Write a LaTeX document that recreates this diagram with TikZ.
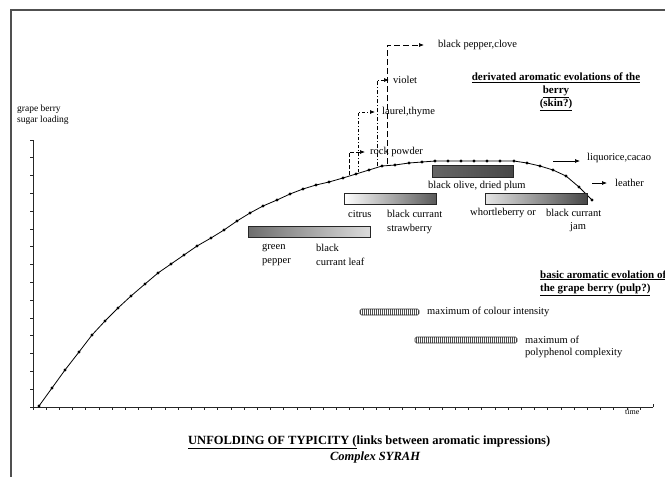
\documentclass[tikz,border=0pt]{standalone}
\usepackage{fontspec}
\setmainfont{Liberation Serif}
\usetikzlibrary{arrows.meta,patterns.meta}
\definecolor{framegray}{HTML}{505050}
\begin{document}
\begin{tikzpicture}[x=1pt,y=-1pt,
  lbl/.style={font=\fontsize{10.5}{12}\selectfont, inner sep=0pt, anchor=west},
  hdr/.style={font=\fontsize{11}{13}\selectfont\bfseries, inner sep=0pt},
  gbar/.style={draw=black!85, line width=.5pt, inner sep=0pt},
  hbar/.style={draw=black!80, line width=.6pt, rounded corners=1.5pt, inner sep=0pt,
     pattern={Lines[angle=90,distance=2pt,line width=.5pt]}, pattern color=black!70},
  arr/.style={-{Latex[length=5pt,width=4pt]}, line width=.7pt},
  dotm/.style={circle, fill=black, inner sep=0pt, minimum size=3.4pt},
  axisl/.style={line width=.7pt, black!85},
  ]
\useasboundingbox (0,0) rectangle (665,477);
\clip (0,0) rectangle (665,477);

% frame
\draw[framegray, line width=1.6pt] (11,477) -- (11,10) -- (670,10);

% axes
\coordinate (Ytop) at (33,140);
\coordinate (O) at (33,407);
\coordinate (Xend) at (653,407);
\draw[axisl] (Ytop) -- (O) -- (Xend);
\foreach \k in {0,...,15} \draw[axisl] (30,{407-17.8*\k}) -- (33,{407-17.8*\k});
\foreach \k in {0,...,46} \draw[axisl] ({33+13.2*\k},407) -- ({33+13.2*\k},410);
\draw[axisl] (Xend) -- (653,404);
\node[font=\fontsize{8}{9}\selectfont, inner sep=0pt, anchor=west] (tlab) at (625,412) {time};
\node[font=\fontsize{9.5}{11}\selectfont, inner sep=0pt, anchor=west, align=left] (ylab) at (17,115) {grape berry\\sugar loading};

% curve with dots
\foreach \p [count=\i] in {(39,406),(52,388),(65,370),(79,352),(92,335),(105,321),(118,308),(131,296),(145,284),(158,273),(171,264),(184,255),(197,246),(211,238),(224,230),(237,221),(250,213),(263,206),(277,200),(290,194),(303,189),(316,185),(329,182),(343,178),(356,174),(369,170),(382,166),(395,165),(409,163),(422,162),(435,161),(448,161),(461,161),(474,161),(487,161),(500,161),(514,161),(527,163),(540,166),(553,170),(566,176),(579,187),(592,200)}
  \node[dotm] (d\i) at \p {};
\draw[line width=.8pt] (d1.center) \foreach \i in {2,...,43} { -- (d\i.center)};

% vertical dashed links
\coordinate (rpb) at (349,175);
\coordinate (ltb) at (358,172);
\coordinate (vib) at (377,166);
\coordinate (bpb) at (387,164);
\node[lbl] (bpt) at (438,45) {black pepper,clove};
\node[lbl] (vit) at (393,80) {violet};
\node[lbl] (ltt) at (382,112) {laurel,thyme};
\node[lbl] (rpt) at (370,152) {rock powder};
\draw[arr, dash pattern=on 6pt off 3pt, shorten >=14pt] (bpb) |- (bpt.west);
\draw[arr, dash pattern=on 4pt off 2pt on 1pt off 2pt, shorten >=4pt] (vib) |- (vit.west);
\draw[arr, dash pattern=on 3pt off 2pt on 1pt off 2pt, shorten >=7pt] (ltb) |- (ltt.west);
\draw[arr, dash pattern=on 4pt off 2pt, shorten >=5pt] (rpb) |- (rpt.west);

% gradient bars
\node[gbar, minimum width=122pt, minimum height=11pt, left color=black!57, right color=black!14] (gpbar) at (309,231.5) {};
\node[lbl] (gp1) at (262,248) {green};
\node[lbl] (gp2) at (262,262) {pepper};
\node[lbl] (bl1) at (316,248) {black};
\node[lbl] (bl2) at (316,262) {currant leaf};

\node[gbar, minimum width=92pt, minimum height=11pt, left color=white, right color=black!65] (cibar) at (390,198.5) {};
\node[lbl] (cit) at (348,214) {citrus};
\node[lbl] (bc1) at (387,214) {black currant};
\node[lbl] (bc2) at (387,229) {strawberry};

\node[gbar, minimum width=81pt, minimum height=12pt, left color=black!60, right color=black!72] (olbar) at (472.5,171) {};
\node[lbl] (olt) at (428,186) {black olive, dried plum};

\node[gbar, minimum width=102pt, minimum height=11pt, left color=black!10, right color=black!72] (whbar) at (536,198.5) {};
\node[lbl] (wh1) at (470,213) {whortleberry or};
\node[lbl] (wh2) at (546,213) {black currant};
\node[lbl] (wh3) at (570,227) {jam};

% right arrows
\coordinate (lqa) at (553,161);
\node[lbl] (lqt) at (587,158) {liquorice,cacao};
\draw[arr, shorten >=7pt] (lqa) -- (lqa -| lqt.west);
\coordinate (lea) at (592,183);
\node[lbl] (let) at (615,183) {leather};
\draw[arr, shorten >=8pt] (lea) -- (let.west);

% headers
\node[hdr, align=center] (skin) at (556,92) {\underline{derivated aromatic evolations of the}\\\underline{berry}\\\underline{(skin?)}};
\node[hdr, anchor=west, align=left] (pulp) at (540,283) {\underline{basic aromatic evolation of}\\\underline{the grape berry (pulp?)}};

% hatched maxima
\node[hbar, minimum width=59pt, minimum height=6pt] (mcbar) at (389.5,312) {};
\node[lbl] (mct) at (427,312) {maximum of colour intensity};
\node[hbar, minimum width=102pt, minimum height=6pt] (mpbar) at (466,340) {};
\node[lbl, align=left] (mpt) at (525,347) {maximum of\\polyphenol complexity};

% title
\node[font=\fontsize{12.5}{14}\selectfont\bfseries, inner sep=0pt, anchor=west] (title) at (188,442) {\underline{UNFOLDING OF TYPICITY (}links between aromatic impressions)};
\node[font=\fontsize{12.5}{14}\selectfont\bfseries\itshape, inner sep=0pt] (sub) at (375,457) {Complex SYRAH};
\end{tikzpicture}
\end{document}
